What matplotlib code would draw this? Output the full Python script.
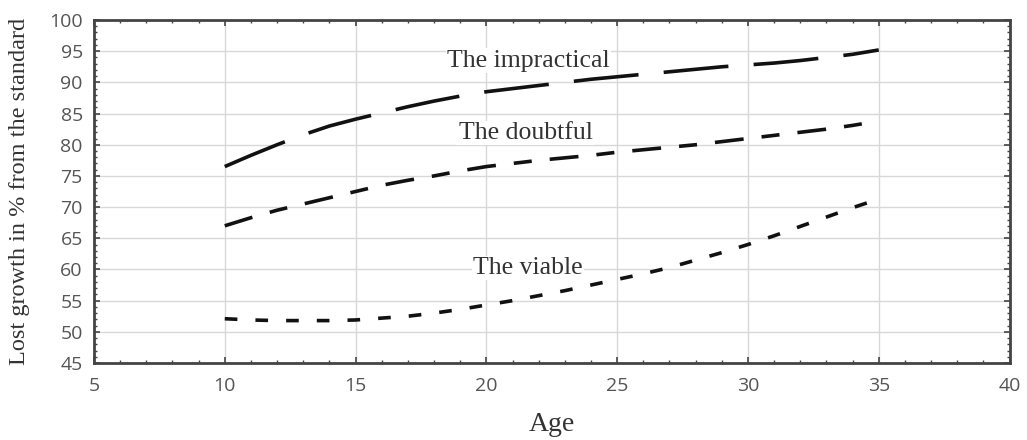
import matplotlib.pyplot as plt
from matplotlib.ticker import MultipleLocator

# Values
age = list(range(10, 36))
impractical = [76.5, 78.3, 80.0, 81.6, 83.0, 84.1, 85.1, 86.1, 87.0, 87.8, 88.5, 89.0, 89.5,
               90.0, 90.5, 90.9, 91.3, 91.7, 92.1, 92.5, 92.8, 93.1, 93.5, 94.0, 94.5, 95.2]
doubtful = [67.0, 68.3, 69.5, 70.5, 71.5, 72.5, 73.5, 74.3, 75.0, 75.8, 76.5, 77.0, 77.5,
            77.9, 78.3, 78.8, 79.2, 79.6, 80.0, 80.5, 81.0, 81.5, 82.0, 82.5, 83.1, 83.8]
viable = [52.1, 51.9, 51.8, 51.8, 51.8, 51.9, 52.2, 52.5, 53.0, 53.6, 54.3, 55.0, 55.8,
          56.6, 57.5, 58.4, 59.3, 60.3, 61.5, 62.7, 64.0, 65.4, 66.9, 68.4, 69.9, 71.3]

labels = ["The impractical", "The doubtful", "The viable"]
label_pos = [(21.6, 93.5), (21.5, 81.9), (21.6, 60.2)]

serif = ['Liberation Serif', 'DejaVu Serif']
sans = ['Open Sans', 'DejaVu Sans']


def main():
    fig = plt.figure(figsize=(10.27, 4.4), dpi=100)
    ax = fig.add_axes([0.0915, 0.175, 0.8915, 0.7795])

    styles = [(0, (18, 7)), (0, (8, 5, 5, 5)), (0, (3.5, 5))]
    for ys, ls in zip([impractical, doubtful, viable], styles):
        ax.plot(age, ys, color='#111111', lw=2.6, linestyle=ls, zorder=3)

    for txt, (x, y) in zip(labels, label_pos):
        ax.text(x, y, txt, ha='center', va='center', fontsize=18.5,
                family=serif, color='#333333', zorder=4,
                bbox=dict(facecolor='white', edgecolor='none', pad=1))

    ax.set_xlim(5, 40)
    ax.set_ylim(45, 100)
    ax.xaxis.set_major_locator(MultipleLocator(5))
    ax.yaxis.set_major_locator(MultipleLocator(5))
    ax.xaxis.set_minor_locator(MultipleLocator(1))
    ax.yaxis.set_minor_locator(MultipleLocator(1))
    ax.grid(True, which='major', color='#d8d8d8', lw=1.0, zorder=0)

    ax.tick_params(which='both', direction='in', top=True, right=True,
                   color='#444444')
    ax.tick_params(which='major', length=4, width=1.2, labelsize=14,
                   labelcolor='#555555')
    ax.tick_params(axis='x', which='major', pad=10)
    ax.tick_params(axis='y', which='major', pad=8)
    ax.tick_params(which='minor', length=2.5, width=1.0)
    for lab in ax.get_xticklabels() + ax.get_yticklabels():
        lab.set_family(sans)

    for sp in ax.spines.values():
        sp.set_color('#444444')
        sp.set_linewidth(2.0)

    ax.set_xlabel("Age", fontsize=20, family=serif, color='#333333', labelpad=12)
    ax.set_ylabel("Lost growth in % from the standard", fontsize=17.5,
                  family=serif, color='#333333', labelpad=14)

    fig.savefig("out.png", dpi=100)


if __name__ == '__main__':
    main()
